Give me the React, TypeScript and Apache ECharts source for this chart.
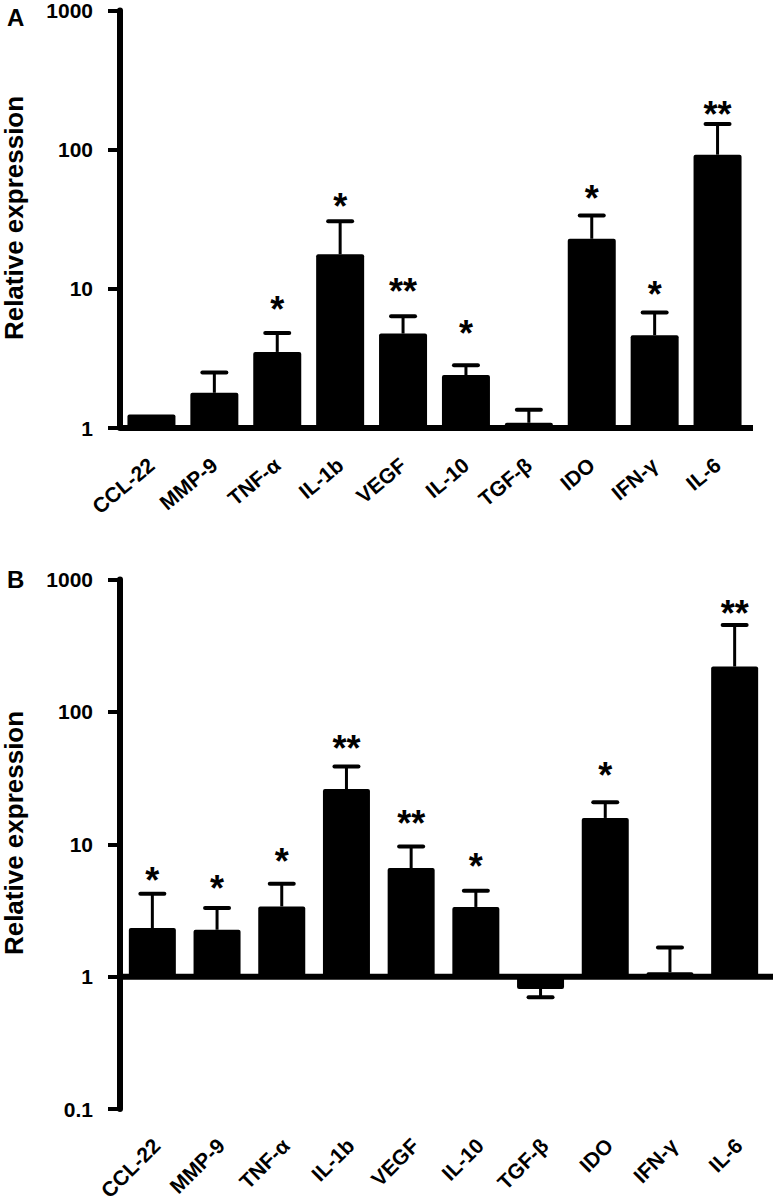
import React, { useEffect, useRef } from "react";
import * as echarts from "echarts";

const categories = ["CCL-22", "MMP-9", "TNF-α", "IL-1b", "VEGF", "IL-10", "TGF-β", "IDO", "IFN-γ", "IL-6"];

// Panel A
const meanA = [1.25, 1.79, 3.52, 17.7, 4.77, 2.4, 1.09, 22.9, 4.64, 92];
const errA: (number | null)[] = [null, 2.51, 4.82, 30.6, 6.35, 2.83, 1.35, 33.6, 6.75, 153];
const sigA = ["", "", "*", "*", "**", "*", "", "*", "*", "**"];
const sigPosA: (number | null)[] = [null, null, 7.8, 43, 10.6, 5.3, null, 49.4, 10.1, 197];

// Panel B
const meanB = [2.33, 2.26, 3.39, 26.1, 6.61, 3.36, 0.807, 15.8, 1.08, 220];
const errB: (number | null)[] = [4.23, 3.3, 5.03, 38.6, 9.62, 4.46, 0.698, 20.8, 1.66, 454];
const sigB = ["*", "*", "*", "**", "**", "*", "", "*", "", "**"];
const sigPosB: (number | null)[] = [5.9, 5.1, 8.2, 59, 15.8, 7.6, null, 36.5, null, 610];

const yTicksA = [1, 10, 100, 1000];
const yTicksB = [0.1, 1, 10, 100, 1000];

const FONT = '"Liberation Sans", Arial, sans-serif';

function makeRender(
  mean: number[],
  err: (number | null)[],
  sig: string[],
  sigPos: (number | null)[],
  barW: number,
  baseExt: number
) {
  return (params: any, api: any) => {
    const i = params.dataIndex;
    const base = api.coord([i, 1]);
    const top = api.coord([i, mean[i]]);
    const cs = params.coordSys;
    const children: any[] = [];
    if (i === 0) {
      children.push({
        type: "line",
        shape: { x1: cs.x, y1: base[1], x2: cs.x + cs.width + baseExt, y2: base[1] },
        style: { stroke: "#000", lineWidth: 6 },
      });
    }
    children.push({
      type: "rect",
      shape: {
        x: base[0] - barW / 2,
        y: Math.min(base[1], top[1]),
        width: barW,
        height: Math.abs(top[1] - base[1]),
        r: 2,
      },
      style: { fill: "#000" },
    });
    const ev = err[i];
    if (ev != null) {
      const e = api.coord([i, ev]);
      children.push({
        type: "line",
        shape: { x1: top[0], y1: top[1], x2: e[0], y2: e[1] },
        style: { stroke: "#000", lineWidth: 3 },
      });
      children.push({
        type: "line",
        shape: { x1: e[0] - 12, y1: e[1], x2: e[0] + 12, y2: e[1] },
        style: { stroke: "#000", lineWidth: 4, lineCap: "round" },
      });
    }
    const sp = sigPos[i];
    if (sig[i] && sp != null) {
      const s = api.coord([i, sp]);
      children.push({
        type: "text",
        x: s[0],
        y: s[1] + 6,
        style: {
          text: sig[i],
          font: `bold 36px ${FONT}`,
          fill: "#000",
          align: "center",
          verticalAlign: "middle",
        },
      });
    }
    return { type: "group", children };
  };
}

function yAxisOpt(gridIndex: number, min: number, max: number, split: number) {
  return {
    gridIndex,
    type: "log",
    logBase: 10,
    min,
    max,
    splitNumber: split,
    axisLine: { show: true, lineStyle: { color: "#000", width: 6 } },
    axisTick: { show: true, length: 12, lineStyle: { color: "#000", width: 4 } },
    minorTick: { show: false },
    splitLine: { show: false },
    axisLabel: {
      color: "#000",
      fontWeight: "bold",
      fontSize: 21,
      fontFamily: FONT,
      margin: 27,
      formatter: (v: number) => String(Number(v.toPrecision(3))),
    },
  };
}

function xAxisOpt(gridIndex: number) {
  return {
    gridIndex,
    type: "category",
    data: categories,
    axisLine: { show: false },
    axisTick: { show: false },
    axisLabel: { show: false },
  };
}

// Labels as groups rotated around their anchor (right end of text)
function rotatedLabels(chart: any, gridIndex: number, bottomVal: number, rotDeg: number, margin: number, dx: number) {
  return categories.map((c, i) => {
    const p = chart.convertToPixel({ xAxisIndex: gridIndex, yAxisIndex: gridIndex }, [i, bottomVal]);
    return {
      type: "group",
      x: p[0] + dx,
      y: p[1] + margin,
      rotation: (rotDeg * Math.PI) / 180,
      children: [
        {
          type: "text",
          x: 0,
          y: 0,
          style: {
            text: c,
            font: `bold 21px ${FONT}`,
            fill: "#000",
            align: "right",
            verticalAlign: "middle",
          },
        },
      ],
    };
  });
}

export default function App() {
  const ref = useRef<HTMLDivElement>(null);
  useEffect(() => {
    if (!ref.current) return;
    const chart = echarts.init(ref.current, null, { renderer: "svg" });
    const staticGraphic: any[] = [
      { type: "text", x: 7, y: 5, style: { text: "A", font: `bold 24px ${FONT}`, fill: "#000" } },
      { type: "text", x: 7, y: 567, style: { text: "B", font: `bold 24px ${FONT}`, fill: "#000" } },
      {
        type: "text",
        x: 14,
        y: 218,
        rotation: Math.PI / 2,
        style: {
          text: "Relative expression",
          font: `bold 26px ${FONT}`,
          fill: "#000",
          align: "center",
          verticalAlign: "middle",
        },
      },
      {
        type: "text",
        x: 14,
        y: 833,
        rotation: Math.PI / 2,
        style: {
          text: "Relative expression",
          font: `bold 26px ${FONT}`,
          fill: "#000",
          align: "center",
          verticalAlign: "middle",
        },
      },
    ];
    chart.setOption({
      animation: false,
      backgroundColor: "#fff",
      grid: [
        { left: 120, top: 9.5, width: 629, height: 418.5 },
        { left: 120, top: 579.5, width: 647, height: 529.5 },
      ],
      xAxis: [xAxisOpt(0), xAxisOpt(1)],
      yAxis: [
        yAxisOpt(0, yTicksA[0], yTicksA[yTicksA.length - 1], yTicksA.length - 1),
        yAxisOpt(1, yTicksB[0], yTicksB[yTicksB.length - 1], yTicksB.length - 1),
      ],
      series: [
        {
          type: "custom",
          xAxisIndex: 0,
          yAxisIndex: 0,
          clip: false,
          renderItem: makeRender(meanA, errA, sigA, sigPosA, 48, 4),
          data: meanA.map((v, i) => [i, v]),
          encode: { x: 0, y: 1 },
        },
        {
          type: "custom",
          xAxisIndex: 1,
          yAxisIndex: 1,
          clip: false,
          renderItem: makeRender(meanB, errB, sigB, sigPosB, 47, 6),
          data: meanB.map((v, i) => [i, v]),
          encode: { x: 0, y: 1 },
        },
      ],
      graphic: staticGraphic,
    });
    const labels = [
      ...rotatedLabels(chart, 0, yTicksA[0], 40, 34, 0),
      ...rotatedLabels(chart, 1, yTicksB[0], 45, 33, 4),
    ];
    chart.setOption({ graphic: [...staticGraphic, ...labels] });
    return () => chart.dispose();
  }, []);
  return (
    <div
      ref={ref}
      style={{ position: "absolute", left: 0, top: 0, width: 774, height: 1201, background: "#fff" }}
    />
  );
}
